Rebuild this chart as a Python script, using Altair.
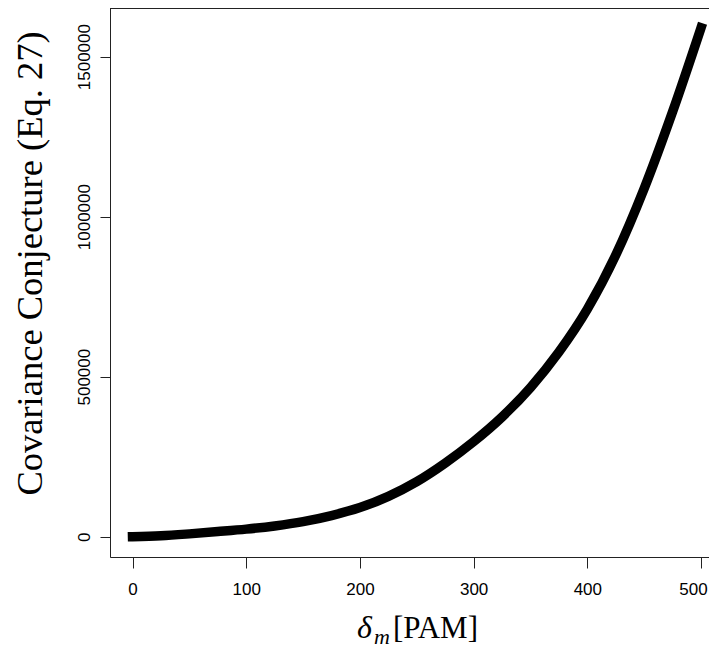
import altair as alt
import pandas as pd

# values
delta_m = [0, 25, 50, 75, 100, 125, 150, 175, 200, 225, 250,
           275, 300, 325, 350, 375, 400, 425, 450, 475, 500]
covariance = [0, 2800, 8700, 15800, 23500, 33500, 47000, 66000, 91000,
              126000, 172000, 230000, 297000, 374000, 466000, 577000,
              711000, 880000, 1088000, 1328000, 1590000]
x_ticks = [0, 100, 200, 300, 400, 500]
y_ticks = [0, 500000, 1000000, 1500000]

df = pd.DataFrame({"d": delta_m, "c": covariance})

W, H = 599, 549

x_scale = alt.Scale(domain=[-19.8, 507.0], nice=False, zero=False)
y_scale = alt.Scale(domain=[-63600, 1652000], nice=False, zero=False)

x_axis = alt.Axis(values=x_ticks, title=None, grid=False, domainColor="#222",
                  tickColor="#222", tickSize=11, labelFont="Liberation Sans",
                  labelFontSize=17, labelColor="black", labelPadding=13,
                  labelBaseline="top", labelFlush=False,
                  labelOffset={"condition": {"test": "datum.value == 500",
                                             "value": -8}, "value": 0})
y_axis = alt.Axis(values=y_ticks, format="d", grid=False, domainColor="#222",
                  tickColor="#222", tickSize=10, labelFont="Liberation Sans",
                  labelFontSize=17, labelColor="black", labelAngle=270,
                  labelAlign="center", labelBaseline="middle", labelPadding=16,
                  labelFlush=False,
                  title="Covariance Conjecture (Eq. 27)",
                  titleFont="Liberation Serif", titleFontSize=36.5,
                  titleFontWeight="normal", titleColor="black",
                  titleAngle=270, titleAlign="center",
                  titleBaseline="alphabetic",
                  titleX=-69, titleY=255)

curve = alt.Chart(df).mark_line(
    color="black", strokeWidth=9.5, interpolate="monotone", strokeCap="square"
).encode(
    x=alt.X("d:Q", scale=x_scale, axis=x_axis),
    y=alt.Y("c:Q", scale=y_scale, axis=y_axis),
)

top_line = alt.Chart(pd.DataFrame({"k": [0]})).mark_rule(
    color="#222", strokeWidth=1
).encode(x=alt.value(0), x2=alt.value(W), y=alt.value(0.5))

lbl = pd.DataFrame({"k": [0]})
t_delta = alt.Chart(lbl).mark_text(
    text="δ", font="Liberation Serif", fontSize=32, fontStyle="italic",
    align="left", baseline="alphabetic", color="black"
).encode(x=alt.value(247), y=alt.value(630))
t_m = alt.Chart(lbl).mark_text(
    text="m", font="Liberation Serif", fontSize=22, fontStyle="italic",
    align="left", baseline="alphabetic", color="black"
).encode(x=alt.value(264), y=alt.value(636))
t_pam = alt.Chart(lbl).mark_text(
    text="[PAM]", font="Liberation Serif", fontSize=31,
    align="left", baseline="alphabetic", color="black"
).encode(x=alt.value(283), y=alt.value(630))

chart = alt.layer(curve, top_line, t_delta, t_m, t_pam).properties(
    width=W, height=H,
    autosize=alt.AutoSizeParams(type="none"),
    padding={"left": 102, "top": 0, "right": 0, "bottom": 92},
).configure_view(stroke=None).configure(background="white")

chart.save("out.html", embed_options={"renderer": "svg", "actions": False})
